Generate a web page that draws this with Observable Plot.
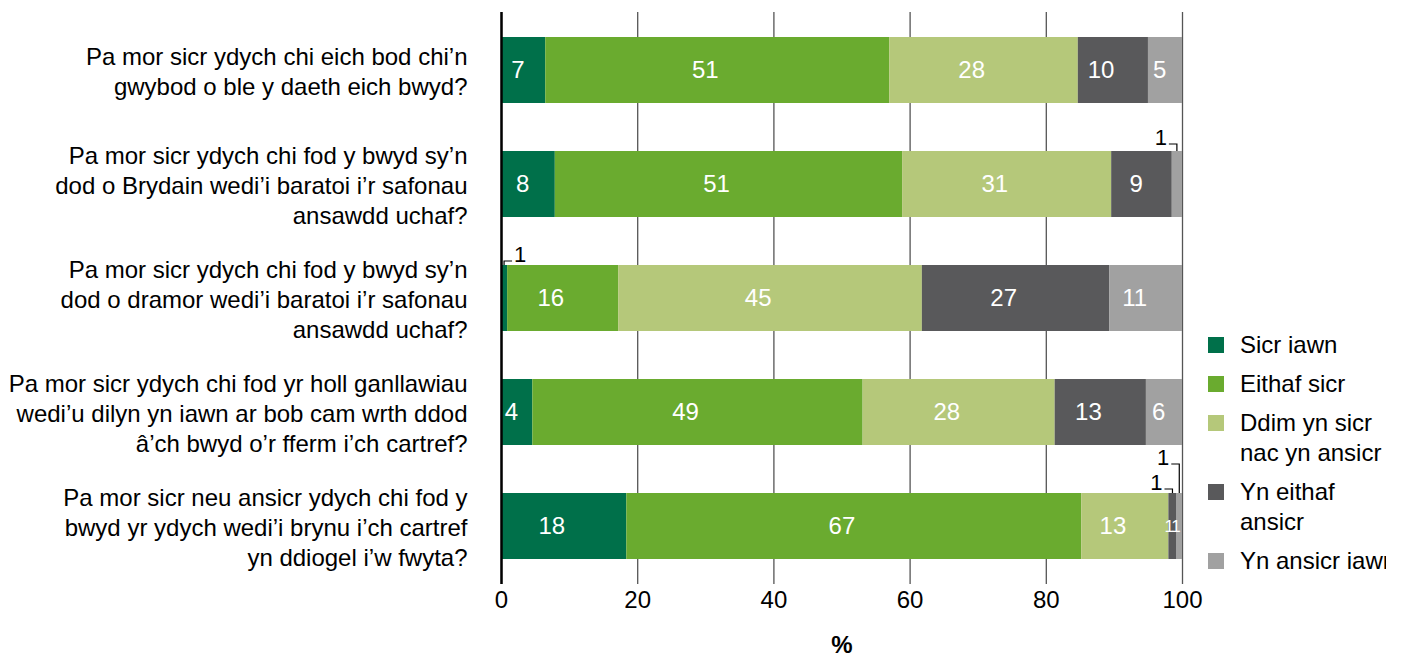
<!DOCTYPE html>
<html>
<head>
<meta charset="utf-8">
<script src="https://cdn.jsdelivr.net/npm/d3@7"></script>
<script src="https://cdn.jsdelivr.net/npm/@observablehq/plot@0.6"></script>
<style>
  html, body { margin: 0; padding: 0; background: #fff; }
  #wrap { position: relative; width: 1406px; height: 657px; overflow: hidden; font-family: "Liberation Sans", Arial, sans-serif; }
  #legend { position: absolute; left: 1208px; top: 330px; width: 178px; overflow: hidden; font-size: 24px; line-height: 30px; color: #000; white-space: nowrap; }
  .item { position: relative; padding-left: 32px; margin-bottom: 9px; }
  .sw { position: absolute; left: 0; top: 7px; width: 16px; height: 16px; }
</style>
</head>
<body>
<div id="wrap"><div id="chart"></div><div id="legend"></div></div>
<script>
const questions = [
  "Pa mor sicr ydych chi eich bod chi’n\ngwybod o ble y daeth eich bwyd?",
  "Pa mor sicr ydych chi fod y bwyd sy’n\ndod o Brydain wedi’i baratoi i’r safonau\nansawdd uchaf?",
  "Pa mor sicr ydych chi fod y bwyd sy’n\ndod o dramor wedi’i baratoi i’r safonau\nansawdd uchaf?",
  "Pa mor sicr ydych chi fod yr holl ganllawiau\nwedi’u dilyn yn iawn ar bob cam wrth ddod\nâ’ch bwyd o’r fferm i’ch cartref?",
  "Pa mor sicr neu ansicr ydych chi fod y\nbwyd yr ydych wedi’i brynu i’ch cartref\nyn ddiogel i’w fwyta?"
];
const series = ["Sicr iawn", "Eithaf sicr", "Ddim yn sicr nac yn ansicr", "Yn eithaf ansicr", "Yn ansicr iawn"];
const legendLabels = ["Sicr iawn", "Eithaf sicr", "Ddim yn sicr<br>nac yn ansicr", "Yn eithaf<br>ansicr", "Yn ansicr iawn"];
const colors = ["#00704a", "#6aab2f", "#b5c87a", "#59595b", "#a1a1a1"];

// values as drawn (%)
const sicrIawn       = [6.5, 7.9, 0.9, 4.6, 18.4];
const eithafSicr     = [50.5, 51.0, 16.3, 48.5, 66.8];
const ddimYnSicr     = [27.7, 30.7, 44.6, 28.2, 12.8];
const ynEithafAnsicr = [10.3, 8.9, 27.5, 13.4, 1.2];
const ynAnsicrIawn   = [5.0, 1.5, 10.7, 5.3, 0.8];
// labels as printed
const sicrIawnLabels       = [7, 8, 1, 4, 18];
const eithafSicrLabels     = [51, 51, 16, 49, 67];
const ddimYnSicrLabels     = [28, 31, 45, 28, 13];
const ynEithafAnsicrLabels = [10, 9, 27, 13, 1];
const ynAnsicrIawnLabels   = [5, 1, 11, 6, 1];
const xTicks = [0, 20, 40, 60, 80, 100];

// small segments labelled outside with a leader line
const callouts = [
  {q: 1, s: 4, rise: 7, side: "left", inside: false},
  {q: 2, s: 0, rise: 4, side: "right", inside: false},
  {q: 4, s: 4, rise: 29, side: "left", inside: true},
  {q: 4, s: 3, rise: 4, side: "left", inside: true}
];

const valueSets = [sicrIawn, eithafSicr, ddimYnSicr, ynEithafAnsicr, ynAnsicrIawn];
const labelSets = [sicrIawnLabels, eithafSicrLabels, ddimYnSicrLabels, ynEithafAnsicrLabels, ynAnsicrIawnLabels];

const rows = [];
questions.forEach((q, qi) => {
  series.forEach((s, si) => {
    const c = callouts.find(d => d.q === qi && d.s === si);
    rows.push({
      question: q, series: s, value: valueSets[si][qi],
      label: c ? (c.inside ? String(labelSets[si][qi]) : "") : String(labelSets[si][qi]),
      small: !!c
    });
  });
});

function calloutMark(index, scales) {
  const g = d3.create("svg:g").attr("font-size", 22).attr("fill", "#000");
  for (const c of callouts) {
    let x0 = 0;
    for (let i = 0; i < c.s; i++) x0 += valueSets[i][c.q];
    const mid = x0 + valueSets[c.s][c.q] / 2;
    const xm = scales.x(mid);
    const yTop = scales.y(questions[c.q]);
    const ey = yTop - c.rise;
    const dir = c.side === "left" ? -1 : 1;
    g.append("path")
      .attr("d", `M${xm},${yTop}V${ey}H${xm + dir * 8}`)
      .attr("fill", "none").attr("stroke", "#000").attr("stroke-width", 1.2);
    g.append("text")
      .attr("x", xm + dir * 10).attr("y", ey + 1)
      .attr("text-anchor", dir < 0 ? "end" : "start")
      .text(labelSets[c.s][c.q]);
  }
  return g.node();
}

const chart = Plot.plot({
  width: 1406,
  height: 657,
  marginLeft: 501,
  marginRight: 224,
  marginTop: 12,
  marginBottom: 73,
  style: {fontFamily: "Liberation Sans, Arial, sans-serif", fontSize: "24px", color: "#000", background: "#fff"},
  x: {domain: [0, 100]},
  y: {domain: questions, paddingInner: 0.419, paddingOuter: 0.2},
  color: {domain: series, range: colors},
  marks: [
    Plot.gridX(xTicks, {stroke: "#555", strokeOpacity: 1, strokeWidth: 1.3}),
    Plot.barX(rows, Plot.stackX({x: "value", y: "question", fill: "series", z: "series"})),
    Plot.text(rows, Plot.stackX({
      x: "value", y: "question", z: "series", text: "label", textAnchor: "end", dx: 1,
      fill: "#fff", fontSize: d => d.small ? 17 : 24
    })),
    Plot.ruleX([0], {stroke: "#000", strokeWidth: 2.5}),
    calloutMark,
    Plot.axisX({ticks: xTicks, tickSize: 0, tickPadding: 6, label: null, fontSize: 24, fontFamily: "Liberation Sans Narrow, Liberation Sans, Arial, sans-serif"}),
    Plot.axisY({tickSize: 0, tickPadding: 34, label: null, fontSize: 24, lineHeight: 1.25}),
    Plot.text(["%"], {frameAnchor: "bottom", dy: 61, fontWeight: "bold", fontSize: 24, lineAnchor: "middle"})
  ]
});
document.getElementById("chart").appendChild(chart);

const legend = d3.select("#legend");
series.forEach((s, i) => {
  const item = legend.append("div").attr("class", "item");
  item.append("span").attr("class", "sw").style("background", colors[i]);
  item.append("span").html(legendLabels[i]);
});
</script>
</body>
</html>
